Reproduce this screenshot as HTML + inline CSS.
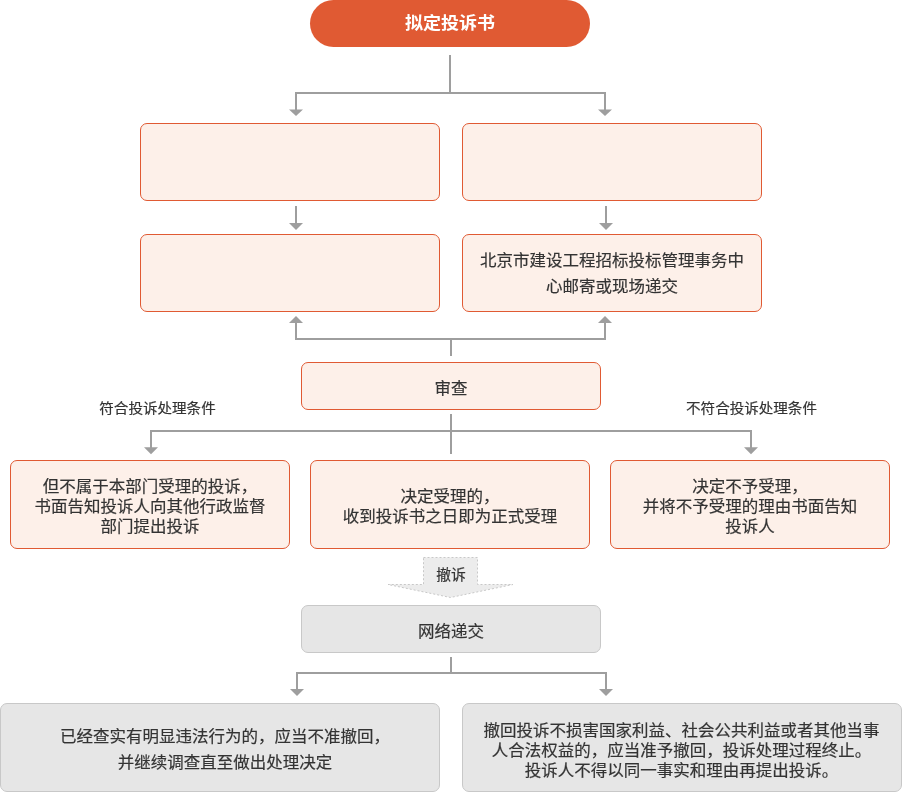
<!DOCTYPE html>
<html lang="zh-CN">
<head>
<meta charset="utf-8">
<title>投诉处理流程</title>
<style>
*{margin:0;padding:0;box-sizing:border-box}
html,body{width:902px;height:792px;background:#fff;overflow:hidden}
body{position:relative;font-family:"Liberation Sans","Noto Sans CJK SC",sans-serif;color:#333;font-size:16.5px}
.b{position:absolute;border-radius:7px}
.o{background:#fdf0e9;border:1px solid #e05a33}
.g{background:#e6e6e6;border:1px solid #c8c8c8}
.pill{position:absolute;left:310px;top:0;width:280px;height:47px;border-radius:23.5px;background:#e05a33}
.t{position:absolute;white-space:nowrap;text-align:center;filter:blur(0.5px);-webkit-text-stroke:0.2px #333;line-height:20.83px;transform:scaleY(0.96);transform-origin:50% 50%}
.lab{font-size:14.55px}
svg{position:absolute;left:0;top:0}
</style>
</head>
<body>
<svg width="902" height="792" viewBox="0 0 902 792">
  <g fill="none" stroke="#9e9e9e" stroke-width="2">
    <path d="M450 55V93"/>
    <path d="M296 110V93H605V110"/>
    <path d="M296 206V224"/>
    <path d="M606 206V224"/>
    <path d="M296 322V339H605V322"/>
    <path d="M451 339V356"/>
    <path d="M451 414V454"/>
    <path d="M151 448V431H751V448"/>
    <path d="M451 657V673"/>
    <path d="M297 690V673H606V690"/>
  </g>
  <g fill="#9e9e9e">
    <path d="M289 109.5h14l-7 6.5z"/>
    <path d="M598 109.5h14l-7 6.5z"/>
    <path d="M289 223h14l-7 7z"/>
    <path d="M599 223h14l-7 7z"/>
    <path d="M289 323h14l-7 -7z"/>
    <path d="M598 323h14l-7 -7z"/>
    <path d="M144 447.2h14l-7 7z"/>
    <path d="M744 447.2h14l-7 7z"/>
    <path d="M290 689h14l-7 7z"/>
    <path d="M599 689h14l-7 7z"/>
  </g>
  <path d="M423.5 557.5H477.5V584.5H513L450.5 597.5L388 584.5H423.5Z" fill="#ececec" stroke="#c8c8c8" stroke-width="1" stroke-dasharray="2 2"/>
</svg>
<div class="pill"></div>
<div class="b o" style="left:140px;top:123px;width:300px;height:78px"></div>
<div class="b o" style="left:462px;top:123px;width:300px;height:78px"></div>
<div class="b o" style="left:140px;top:234px;width:300px;height:78px"></div>
<div class="b o" style="left:462px;top:234px;width:300px;height:78px"></div>
<div class="b o" style="left:301px;top:362px;width:300px;height:48px"></div>
<div class="b o" style="left:10px;top:460px;width:280px;height:89px"></div>
<div class="b o" style="left:310px;top:460px;width:280px;height:89px"></div>
<div class="b o" style="left:610px;top:460px;width:280px;height:89px"></div>
<div class="b g" style="left:301px;top:605px;width:300px;height:48px"></div>
<div class="b g" style="left:0px;top:703px;width:440px;height:89px"></div>
<div class="b g" style="left:462px;top:703px;width:440px;height:89px"></div>

<div class="t" id="t1" style="left:310px;top:11px;width:280px;font-size:18px;font-weight:bold;color:#fff;-webkit-text-stroke:0;line-height:24px">拟定投诉书</div>
<div class="t" id="t2" style="left:462px;top:247px;width:300px;line-height:27.08px">北京市建设工程招标投标管理事务中<br>心邮寄或现场递交</div>
<div class="t" id="t3" style="left:301px;top:378px;width:300px">审查</div>
<div class="t lab" id="t4" style="left:57.5px;top:398px;width:200px">符合投诉处理条件</div>
<div class="t lab" id="t5" style="left:651.5px;top:398px;width:200px">不符合投诉处理条件</div>
<div class="t" id="t6" style="left:10px;top:475px;width:280px">但不属于本部门受理的投诉，<br>书面告知投诉人向其他行政监督<br>部门提出投诉</div>
<div class="t" id="t7" style="left:310px;top:486px;width:280px">决定受理的，<br>收到投诉书之日即为正式受理</div>
<div class="t" id="t8" style="left:610px;top:475px;width:280px">决定不予受理，<br>并将不予受理的理由书面告知<br>投诉人</div>
<div class="t" id="t9" style="left:401px;top:564.5px;width:100px;font-size:14.8px">撤诉</div>
<div class="t" id="t10" style="left:301px;top:621px;width:300px">网络递交</div>
<div class="t" id="t11" style="left:5px;top:723px;width:440px;line-height:27.08px">已经查实有明显违法行为的，应当不准撤回，<br>并继续调查直至做出处理决定</div>
<div class="t" id="t12" style="left:461.5px;top:719px;width:440px">撤回投诉不损害国家利益、社会公共利益或者其他当事<br>人合法权益的，应当准予撤回，投诉处理过程终止。<br>投诉人不得以同一事实和理由再提出投诉。</div>
</body>
</html>
